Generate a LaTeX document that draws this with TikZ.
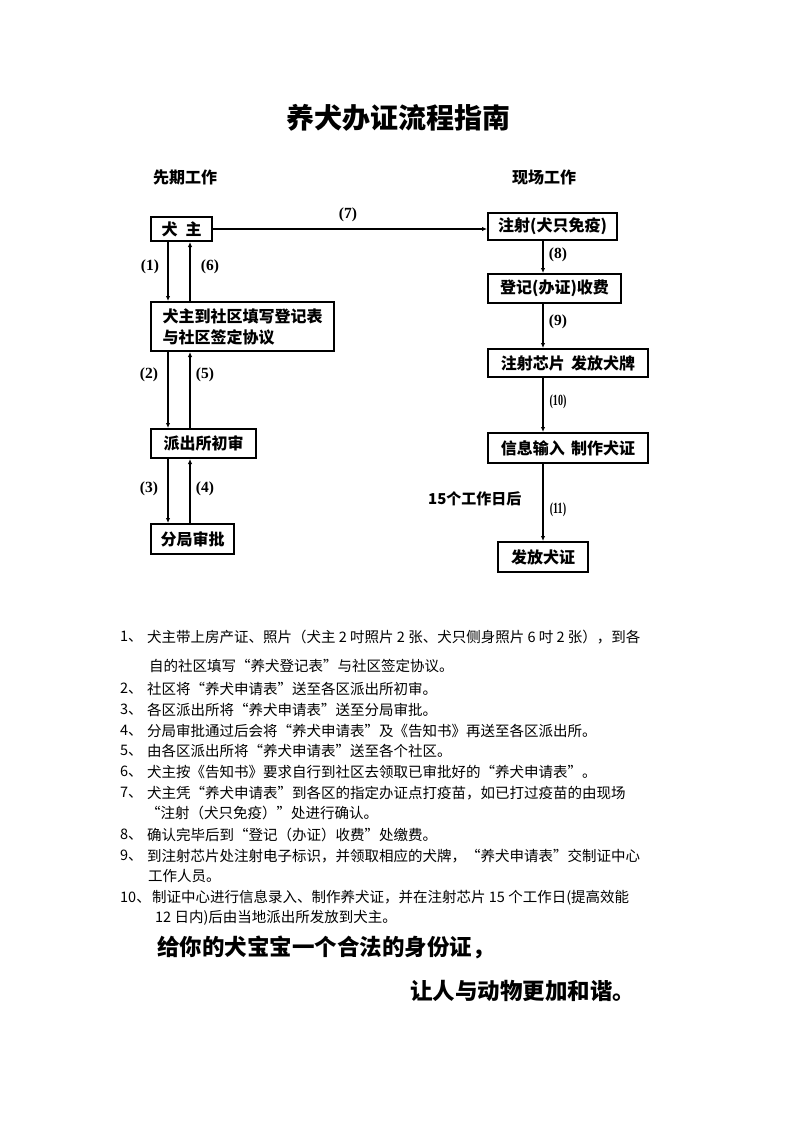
\documentclass[tikz,border=0pt]{standalone}
\usepackage{fontspec}
\usepackage{graphicx}
\setmainfont{Noto Sans CJK SC}
\newfontfamily\labfont{Liberation Serif}
\usetikzlibrary{arrows.meta}
\begin{document}
\begin{tikzpicture}[x=1pt,y=-1pt,
  box/.style={draw, line width=2pt, inner sep=0pt, font=\fontsize{16}{21}\selectfont\bfseries},
  arr/.style={line width=1.8pt, -{Latex[length=5pt,width=4.5pt]}},
  lab/.style={font=\labfont\fontsize{15.5}{15.5}\selectfont\bfseries, inner sep=0pt},
  item/.style={anchor=west, inner sep=0pt, font=\fontsize{14.5}{14.5}\selectfont},
  head/.style={anchor=west, inner sep=0pt, font=\fontsize{16}{16}\selectfont\bfseries},
  slogan/.style={anchor=west, inner sep=0pt, font=\fontsize{22.5}{22.5}\selectfont\bfseries},
]
\fill[white] (0,0) rectangle (793,1122);
\useasboundingbox (0,0) rectangle (793,1122);

% title and headings
\node[inner sep=0pt, font=\fontsize{28}{28}\selectfont\bfseries] (title) at (398,118) {养犬办证流程指南};
\node[head] (hl) at (153,177) {先期工作};
\node[head] (hr) at (512,177) {现场工作};

% helper x positions
\coordinate (xa) at (168,0);
\coordinate (xb) at (190,0);
\coordinate (xr) at (543,0);

% left column boxes
\node[box, minimum width=61, minimum height=24] (owner) at (181.5,229) {犬\hspace{0.5em}主};
\node[box, minimum width=183, minimum height=49, align=left] (fill) at (242.5,326.5) {犬主到社区填写登记表\\与社区签定协议};
\node[box, minimum width=105, minimum height=29] (pcs) at (203.5,443.5) {派出所初审};
\node[box, minimum width=83, minimum height=30] (bureau) at (192.5,539) {分局审批};

% right column boxes
\node[box, minimum width=129, minimum height=27] (inject) at (552.5,226.5) {注射(犬只免疫)};
\node[box, minimum width=133, minimum height=29] (register) at (554.5,288.5) {登记(办证)收费};
\node[box, minimum width=160, minimum height=28] (chip) at (568,363) {注射芯片\hspace{0.4em}发放犬牌};
\node[box, minimum width=160, minimum height=30] (info) at (568,448) {信息输入\hspace{0.4em}制作犬证};
\node[box, minimum width=90, minimum height=30] (issue) at (543,557) {发放犬证};

% left arrows
\draw[arr] (owner.south -| xa) -- (fill.north -| xa);
\draw[arr] (fill.north -| xb) -- (owner.south -| xb);
\draw[arr] (fill.south -| xa) -- (pcs.north -| xa);
\draw[arr] (pcs.north -| xb) -- (fill.south -| xb);
\draw[arr] (pcs.south -| xa) -- (bureau.north -| xa);
\draw[arr] (bureau.north -| xb) -- (pcs.south -| xb);

% horizontal arrow
\draw[arr] (owner.east) -- (owner.east -| inject.west);

% right arrows
\draw[arr] (inject.south -| xr) -- (register.north -| xr);
\draw[arr] (register.south -| xr) -- (chip.north -| xr);
\draw[arr] (chip.south -| xr) -- (info.north -| xr);
\draw[arr] (info.south -| xr) -- (issue.north);

% labels
\node[lab] (l1) at (150,267) {(1)};
\node[lab] (l6) at (210,267) {(6)};
\node[lab] (l2) at (149,375) {(2)};
\node[lab] (l5) at (205,375) {(5)};
\node[lab] (l3) at (149,489) {(3)};
\node[lab] (l4) at (205,489) {(4)};
\node[lab] (l7) at (348,215) {(7)};
\node[lab] (l8) at (558,255) {(8)};
\node[lab] (l9) at (558,322) {(9)};
\node[lab] (l10) at (558,402) {\scalebox{0.65}[1]{(10)}};
\node[lab] (l11) at (558,510) {\scalebox{0.65}[1]{(11)}};
\node[head, font=\fontsize{15}{15}\selectfont\bfseries] (days) at (428,499) {15个工作日后};

% list
\node[item] (n1) at (120,637) {1、};
\node[item] (t1) at (147,637) {犬主带上房产证、照片（犬主 2 吋照片 2 张、犬只侧身照片 6 吋 2 张），到各};
\node[item] (t1b) at (149,666) {自的社区填写“养犬登记表”与社区签定协议。};
\node[item] (n2) at (120,689) {2、};
\node[item] (t2) at (147,689) {社区将“养犬申请表”送至各区派出所初审。};
\node[item] (n3) at (120,710) {3、};
\node[item] (t3) at (147,710) {各区派出所将“养犬申请表”送至分局审批。};
\node[item] (n4) at (120,731) {4、};
\node[item] (t4) at (147,731) {分局审批通过后会将“养犬申请表”及《告知书》再送至各区派出所。};
\node[item] (n5) at (120,751) {5、};
\node[item] (t5) at (147,751) {由各区派出所将“养犬申请表”送至各个社区。};
\node[item] (n6) at (120,772) {6、};
\node[item] (t6) at (147,772) {犬主按《告知书》要求自行到社区去领取已审批好的“养犬申请表”。};
\node[item] (n7) at (120,793) {7、};
\node[item] (t7) at (147,793) {犬主凭“养犬申请表”到各区的指定办证点打疫苗，如已打过疫苗的由现场};
\node[item] (t7b) at (146,813) {“注射（犬只免疫）”处进行确认。};
\node[item] (n8) at (120,835) {8、};
\node[item] (t8) at (147,835) {确认完毕后到“登记（办证）收费”处缴费。};
\node[item] (n9) at (120,856) {9、};
\node[item] (t9) at (147,856) {到注射芯片处注射电子标识，并领取相应的犬牌，“养犬申请表”交制证中心};
\node[item] (t9b) at (148,876) {工作人员。};
\node[item] (n10) at (120,898) {10、};
\node[item] (t10) at (152,898) {制证中心进行信息录入、制作养犬证，并在注射芯片 15 个工作日(提高效能};
\node[item] (t10b) at (155,918) {12 日内)后由当地派出所发放到犬主。};

% slogan
\node[slogan] (s1) at (157,947) {给你的犬宝宝一个合法的身份证，};
\node[slogan] (s2) at (410,991) {让人与动物更加和谐。};
\end{tikzpicture}
\end{document}
